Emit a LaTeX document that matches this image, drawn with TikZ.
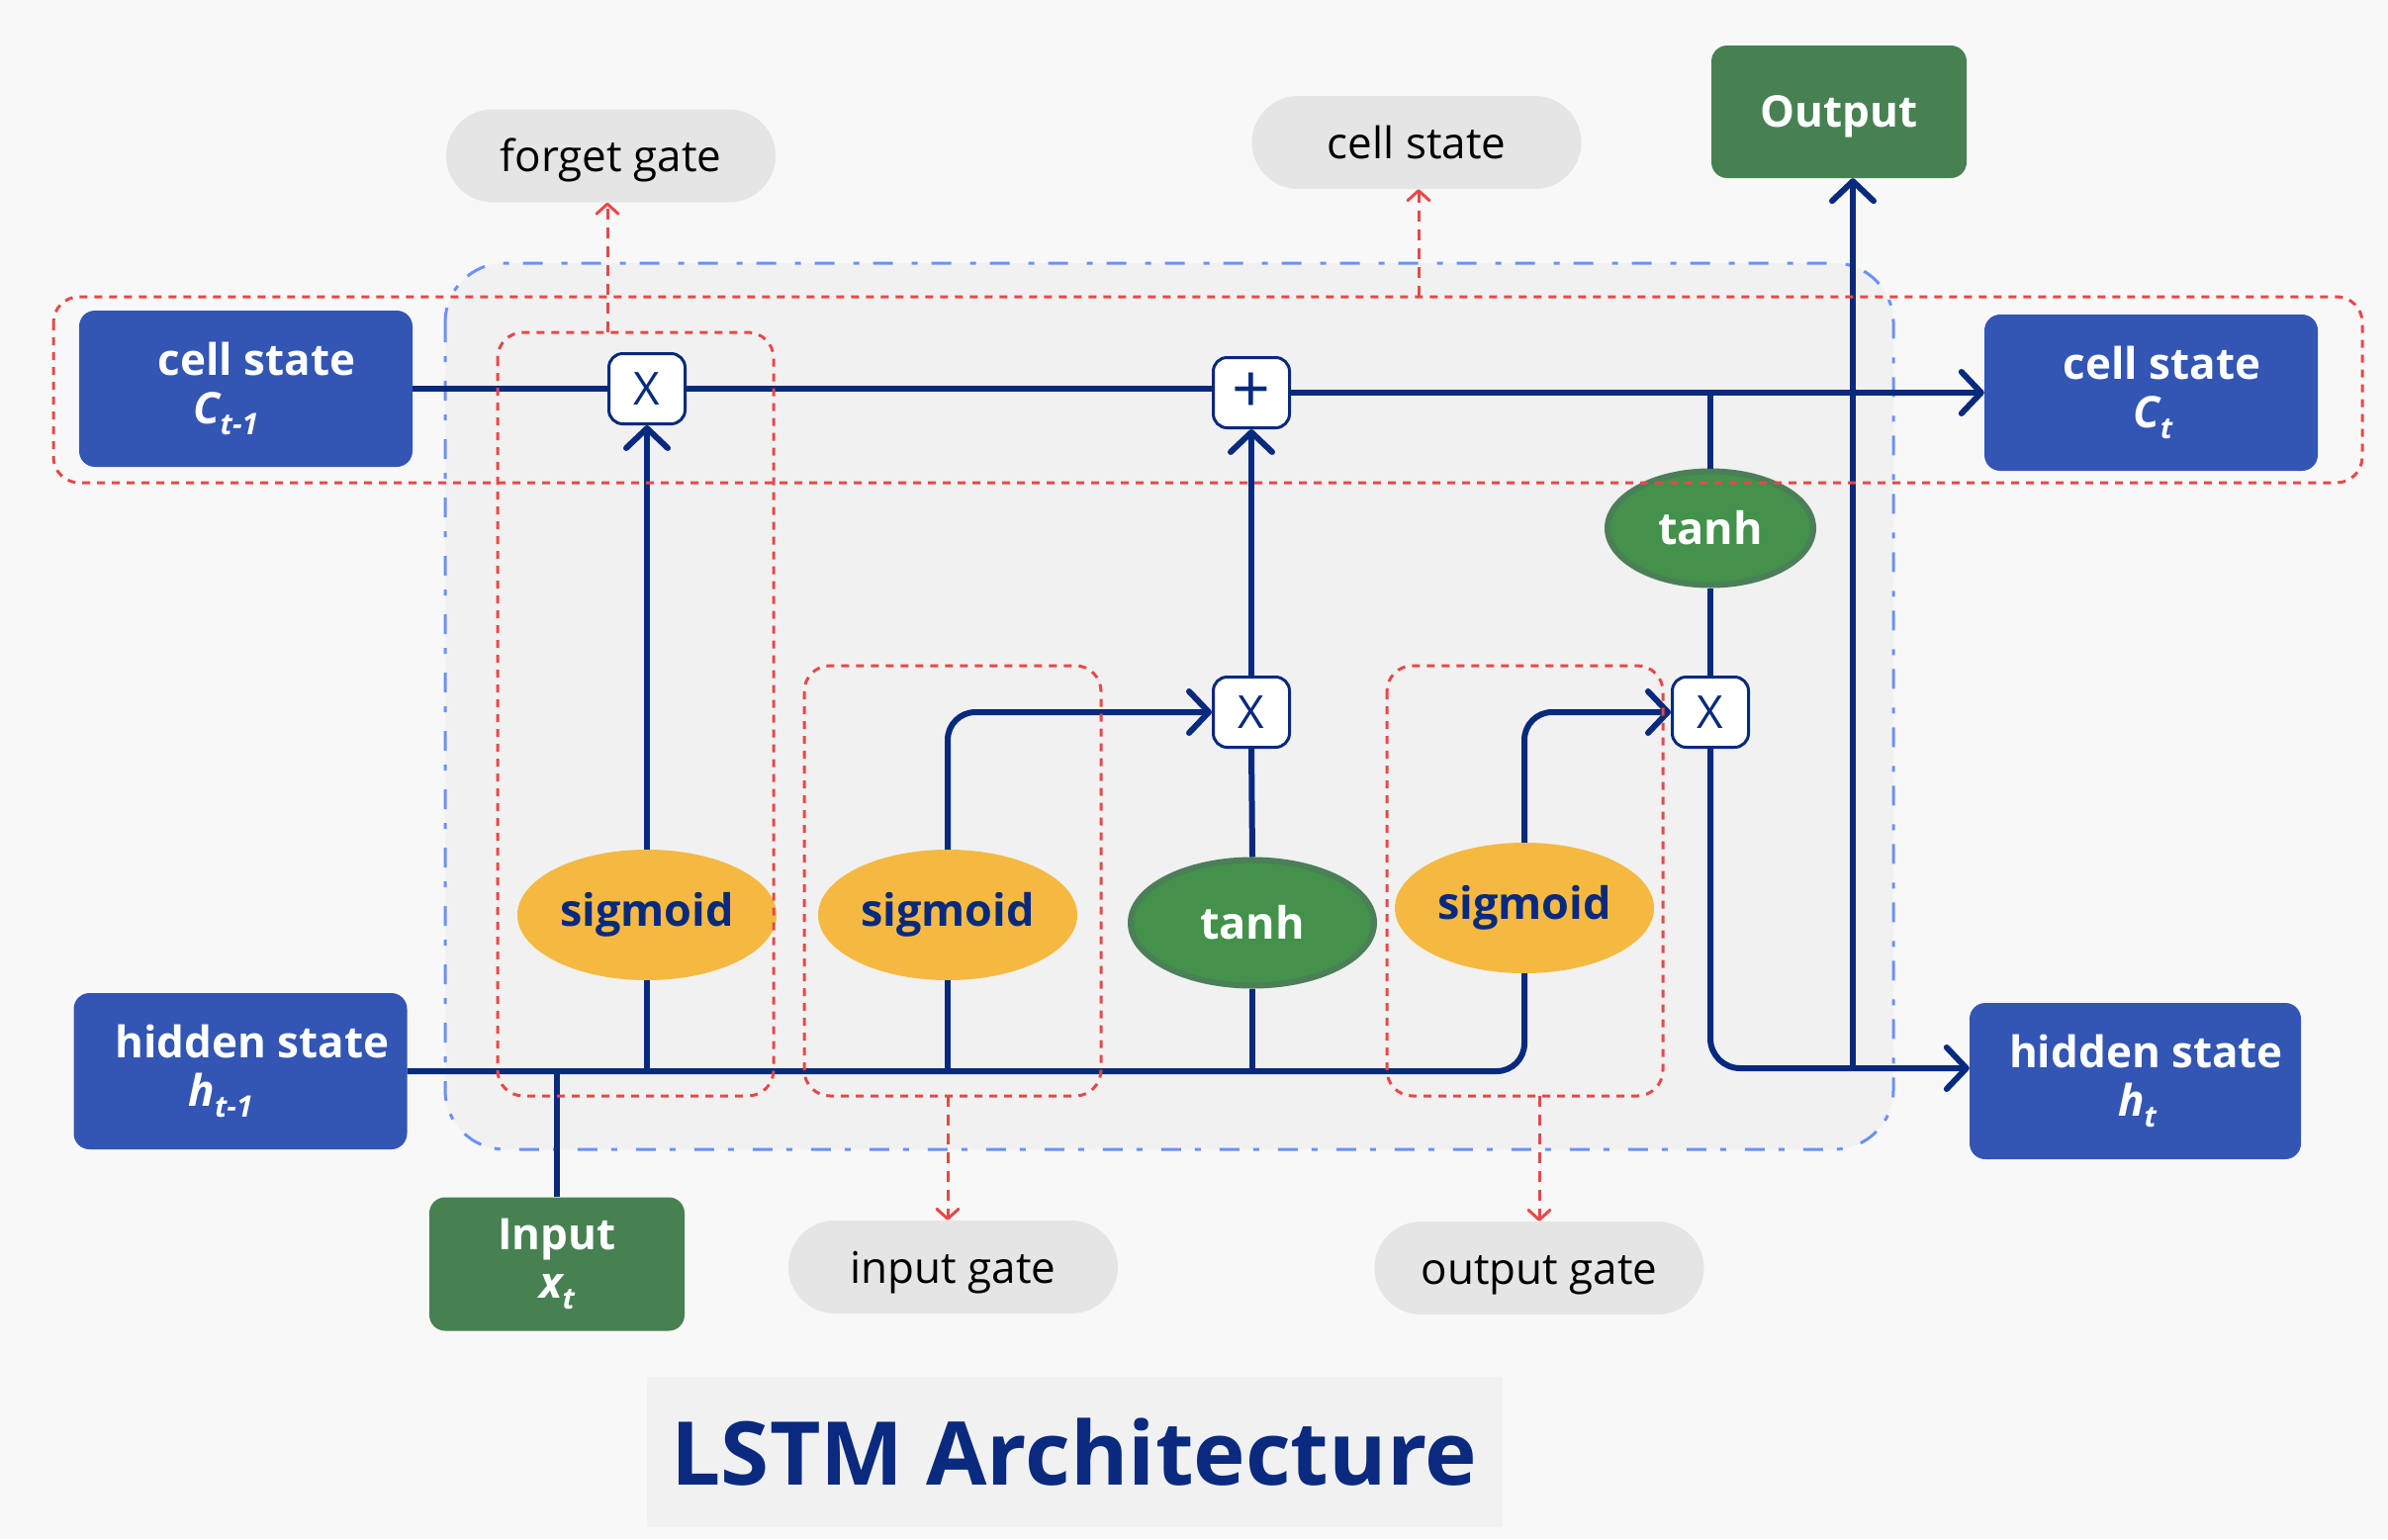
\documentclass[tikz,border=0pt]{standalone}
\usepackage{fontspec}
\setmainfont{Open Sans}
\usetikzlibrary{arrows.meta,shapes.geometric}
\definecolor{bgc}{HTML}{F8F8F8}
\definecolor{innerc}{HTML}{F1F1F1}
\definecolor{boxblue}{HTML}{3355B4}
\definecolor{lineblue}{HTML}{082A7E}
\definecolor{sigyellow}{HTML}{F5B942}
\definecolor{tanhfill}{HTML}{43914A}
\definecolor{tanhborder}{HTML}{4A7F57}
\definecolor{greenbox}{HTML}{478152}
\definecolor{redc}{HTML}{E84848}
\definecolor{dashblue}{HTML}{6A92F5}
\definecolor{pillgray}{HTML}{E5E5E5}
\definecolor{titleblue}{HTML}{0A2A7F}
\newcommand{\subt}[1]{\raisebox{-11pt}{\fontsize{30}{30}\selectfont #1}}
\begin{document}
\begin{tikzpicture}[x=1pt,y=-1pt,
  bluebox/.style={rectangle, rounded corners=16pt, fill=boxblue, text=white,
    font=\bfseries\fontsize{44}{49}\selectfont, align=center, inner sep=0pt,
    minimum width=337pt, minimum height=158pt},
  greenrect/.style={rectangle, rounded corners=16pt, fill=greenbox, text=white,
    font=\bfseries\fontsize{44}{49}\selectfont, align=center, inner sep=0pt,
    minimum width=258pt, minimum height=134pt},
  opbox/.style={rectangle, rounded corners=14pt, fill=white, draw=lineblue,
    line width=3pt, minimum width=77pt, minimum height=71pt, inner sep=0pt,
    font=\fontsize{46}{46}\selectfont, text=lineblue},
  sig/.style={ellipse, fill=sigyellow, minimum width=262pt, minimum height=132pt,
    inner sep=0pt, font=\bfseries\fontsize{45}{45}\selectfont, text=lineblue},
  tanhn/.style={ellipse, fill=tanhfill, draw=tanhborder, line width=6pt,
    inner sep=0pt, font=\bfseries\fontsize{45}{45}\selectfont, text=white},
  pill/.style={rectangle, rounded corners=47pt, fill=pillgray, minimum width=333pt,
    minimum height=94pt, inner sep=0pt, text height=40pt, text depth=8pt,
    font=\fontsize{44}{44}\selectfont, text=black},
  wire/.style={draw=lineblue, line width=6pt},
  arr/.style={wire, -{Straight Barb[length=20pt,width=42pt,round]}},
  gatebox/.style={draw=redc, line width=3pt, dash pattern=on 8pt off 7pt, rounded corners=26pt},
  redarr/.style={draw=redc, line width=3pt, dash pattern=on 11pt off 8pt,
    -{Straight Barb[length=10pt,width=22pt,round]}}
]
% background
\fill[bgc] (0,0) rectangle (2414,1556);
\useasboundingbox (0,0) rectangle (2414,1556);
% LSTM cell area
\draw[fill=innerc, draw=dashblue, line width=3pt,
  dash pattern=on 20pt off 14pt on 6pt off 19pt, rounded corners=60pt]
  (450,266) rectangle (1914,1162);

% nodes
\node[bluebox] (c0) at (248.5,393) {\hspace*{22pt}cell state\\{\itshape C\subt{t-1}}\hspace*{40pt}};
\node[bluebox] (c1) at (2174.5,397) {\hspace*{22pt}cell state\\\hspace*{4pt}{\itshape C\subt{t}}};
\node[bluebox] (h0) at (243,1083) {\hspace*{24pt}hidden state\\{\itshape h\subt{t-1}}\hspace*{40pt}};
\node[bluebox,minimum width=335pt] (h1) at (2158.5,1093) {\hspace*{22pt}hidden state\\\hspace*{4pt}{\itshape h\subt{t}}};
\node[greenrect,minimum width=258pt,minimum height=135pt] (inp) at (563,1278) {Input\\{\itshape x\subt{t}}};
\node[greenrect, text height=38pt, text depth=8pt] (out) at (1859,113) {Output};

\node[opbox] (fx) at (654,393) {X};
\node[opbox, font=\fontsize{68}{68}\selectfont] (plus) at (1265,397) {+};
\node[opbox] (ix) at (1265,720) {X};
\node[opbox] (ox) at (1729,720) {X};

\node[tanhn, minimum width=208pt, minimum height=115pt] (tanhc) at (1729,534) {tanh};
\node[sig] (sf) at (654,925) {sigmoid};
\node[sig] (si) at (958,925) {sigmoid};
\node[tanhn, minimum width=246pt, minimum height=127pt] (tanhi) at (1266,933) {tanh};
\node[sig] (so) at (1541,918) {sigmoid};

\node[pill] (pf) at (617.5,157.5) {forget gate};
\node[pill, minimum width=333pt] (pc) at (1432,144) {cell state};
\node[pill] (pi) at (963.5,1281) {input gate};
\node[pill] (po) at (1556,1282) {output gate};

\node[rectangle, fill=innerc, minimum width=865pt, minimum height=152pt, inner sep=0pt,
  text=titleblue, font=\bfseries\fontsize{89}{89}\selectfont] (title) at (1086,1468) {LSTM Architecture};

% wires: cell state
\draw[wire] (c0.east) -- (fx.west);
\draw[wire] (fx.east) -- (plus.west |- fx.east);
\draw[arr] (plus.east |- c1.west) -- (c1.west);
\draw[wire] (tanhc.north) -- (tanhc.north |- c1.west);
\draw[wire] (tanhc.south) -- (ox.north);
% hidden line
\draw[wire, rounded corners=28pt] (h0.east) -| (so.south);
\draw[wire] (sf.south) -- (sf.south |- h0.east);
\draw[wire] (si.south) -- (si.south |- h0.east);
\draw[wire] (tanhi.south) -- (tanhi.south |- h0.east);
\draw[wire] (inp.north) -- (inp.north |- h0.east);
% gates
\draw[arr] (sf.north) -- (fx.south);
\draw[arr, rounded corners=28pt] (si.north) |- (ix.west);
\draw[wire] (tanhi.north) -- (ix.south);
\draw[arr] (ix.north) -- (plus.south);
\draw[arr, rounded corners=28pt] (so.north) |- (ox.west);
% output
\coordinate (oj) at (1873,1080);
\draw[arr, rounded corners=30pt] (ox.south) |- (oj) -- (oj -| h1.west);
\draw[arr] (oj) -- (oj |- out.south);

% red dashed groups
\draw[gatebox] (54,300) rectangle (2388,488);
\draw[gatebox] (503,336) rectangle (782,1108);
\draw[gatebox] (813,673) rectangle (1113,1108);
\draw[gatebox] (1402,673) rectangle (1681,1108);
\coordinate (ftop) at (614,336);
\coordinate (ctop) at (1434,300);
\coordinate (ibot) at (958,1108);
\coordinate (obot) at (1556,1108);
\draw[redarr] (ftop) -- (ftop |- pf.south);
\draw[redarr] (ctop) -- (ctop |- pc.south);
\draw[redarr] (ibot) -- (ibot |- pi.north);
\draw[redarr] (obot) -- (obot |- po.north);
\end{tikzpicture}
\end{document}
